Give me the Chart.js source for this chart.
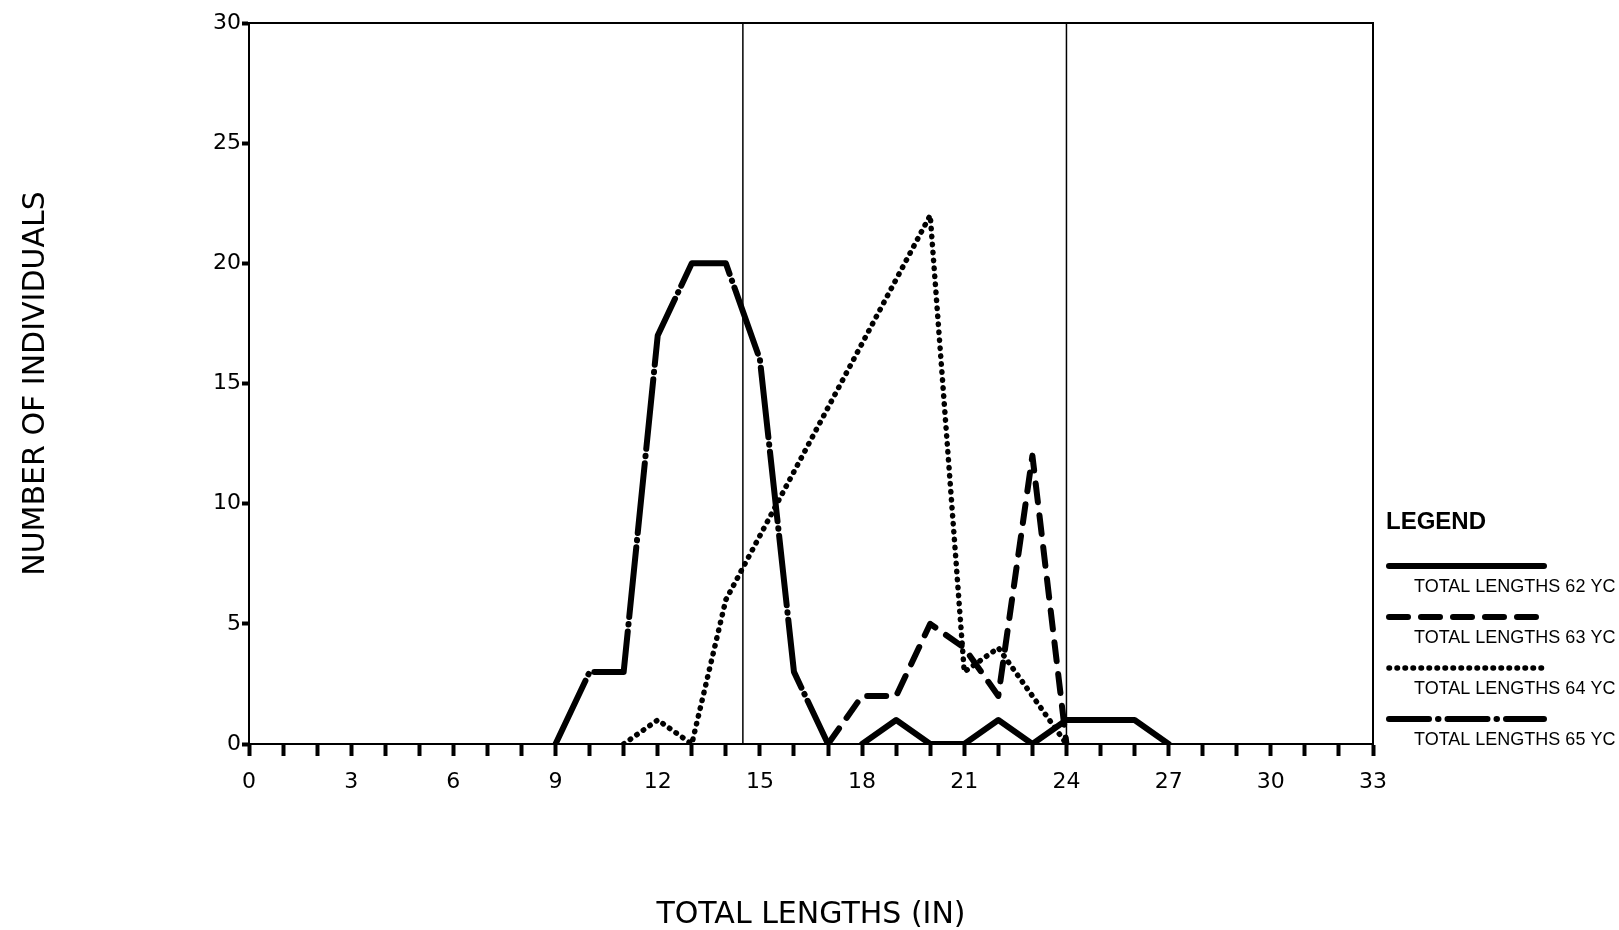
<!DOCTYPE html>
<html>
<head>
<meta charset="utf-8">
<script src="https://cdn.jsdelivr.net/npm/chart.js@4"></script>
<style>
  body { margin: 0; background: #fff; }
  #wrap { width: 1619px; height: 930px; }
</style>
</head>
<body>
<div id="wrap"><canvas id="myChart" width="1619" height="930"></canvas></div>
<script>
// total length (inches) for each reading
const lengths = [9, 10, 11, 12, 13, 14, 15, 16, 17, 18, 19, 20, 21, 22, 23, 24, 25, 26, 27]
// number of individuals per year class
const yc62 = [null, null, null, null, null, null, null, null, null, 0, 1, 0, 0, 1, 0, 1, 1, 1, 0]
const yc63 = [null, null, null, null, null, null, null, null, 0, 2, 2, 5, 4, 2, 12, 0, null, null, null]
const yc64 = [null, null, 0, 1, 0, 6, null, null, null, null, null, 22, 3, 4, 2, 0, null, null, null]
const yc65 = [0, 3, 3, 17, 20, 20, 16, 3, 0, null, null, null, null, null, null, null, null, null, null]
const seriesLabels = ['TOTAL LENGTHS 62 YC', 'TOTAL LENGTHS 63 YC', 'TOTAL LENGTHS 64 YC', 'TOTAL LENGTHS 65 YC']
const dividers = [14.5, 24]
const xTickLabels = [0, 3, 6, 9, 12, 15, 18, 21, 24, 27, 30, 33]
const yTickLabels = [0, 5, 10, 15, 20, 25, 30]

const FONT = "'DejaVu Sans', sans-serif"
const LFONT = "'Liberation Sans', Arial, sans-serif"

function points(values) {
    return lengths.map((x, i) => ({ x: x, y: values[i] }))
}

const styles = [
    { borderDash: [], borderWidth: 6 },
    { borderDash: [19, 13], borderWidth: 6 },
    { borderDash: [0.5, 7.5], borderWidth: 5.5 },
    { borderDash: [70, 7, 0.5, 7], borderWidth: 6 }
]

const datasets = [yc62, yc63, yc64, yc65].map((vals, i) => ({
    label: seriesLabels[i],
    data: points(vals),
    borderColor: '#000',
    borderWidth: styles[i].borderWidth,
    borderDash: styles[i].borderDash,
    borderCapStyle: 'round',
    borderJoinStyle: 'round',
    pointRadius: 0,
    spanGaps: true,
    tension: 0
}))

dividers.forEach((d) => {
    datasets.push({
        label: 'divider',
        data: [{ x: d, y: 0 }, { x: d, y: 30 }],
        borderColor: '#000',
        borderWidth: 1.5,
        pointRadius: 0
    })
})

const legendDash = [[], [19, 13], [0.5, 7.5], [40, 9, 0.5, 9]]

const frameAndLegend = {
    id: 'frameAndLegend',
    beforeDatasetsDraw(chart) {
        const c = chart.ctx
        const a = chart.chartArea
        c.save()
        c.strokeStyle = '#000'
        c.lineWidth = 2
        c.strokeRect(a.left, a.top, a.right - a.left, a.bottom - a.top)
        c.restore()
    },
    afterDraw(chart) {
        const c = chart.ctx
        c.save()
        c.fillStyle = '#000'
        c.font = 'bold 24px ' + LFONT
        c.textBaseline = 'middle'
        c.fillText('LEGEND', 1386, 522)
        for (let i = 0; i < 4; i++) {
            const ds = chart.data.datasets[i]
            const ly = 566 + i * 51
            c.beginPath()
            c.strokeStyle = '#000'
            c.lineWidth = ds.borderWidth
            c.lineCap = 'round'
            c.setLineDash(legendDash[i])
            c.moveTo(1389, ly)
            c.lineTo(1544, ly)
            c.stroke()
            c.setLineDash([])
            c.font = '18px ' + LFONT
            c.fillText(ds.label, 1414, ly + 21)
        }
        c.restore()
    }
}

new Chart(document.getElementById('myChart'), {
    type: 'line',
    data: { datasets: datasets },
    options: {
        responsive: false,
        animation: false,
        layout: { padding: { left: 0, right: 246, top: 23, bottom: 0 } },
        plugins: { legend: { display: false }, tooltip: { enabled: false } },
        scales: {
            x: {
                type: 'linear',
                min: 0,
                max: 33,
                afterFit: (s) => { s.height = 186 },
                ticks: {
                    stepSize: 1,
                    autoSkip: false,
                    maxRotation: 0,
                    color: '#000',
                    font: { family: FONT, size: 22 },
                    padding: 13,
                    callback: (v) => xTickLabels.includes(v) ? String(v) : ''
                },
                grid: { drawOnChartArea: false, color: '#000', tickLength: 12, tickWidth: 4 },
                border: { color: '#000', width: 2 },
                title: {
                    display: true,
                    text: 'TOTAL LENGTHS (IN)',
                    color: '#000',
                    font: { family: FONT, size: 30, lineHeight: 1 },
                    padding: { top: 0, bottom: 0 }
                }
            },
            y: {
                min: 0,
                max: 30,
                afterFit: (s) => { s.width = 249 },
                ticks: {
                    stepSize: 5,
                    color: '#000',
                    font: { family: FONT, size: 22 },
                    padding: 1,
                    callback: (v) => yTickLabels.includes(v) ? String(v) : ''
                },
                grid: { drawOnChartArea: false, color: '#000', tickLength: 7, tickWidth: 4 },
                border: { color: '#000', width: 2 },
                title: {
                    display: true,
                    text: 'NUMBER OF INDIVIDUALS',
                    color: '#000',
                    font: { family: FONT, size: 30, lineHeight: 1 },
                    padding: { top: 21, bottom: 0 }
                }
            }
        }
    },
    plugins: [frameAndLegend]
})
</script>
</body>
</html>
